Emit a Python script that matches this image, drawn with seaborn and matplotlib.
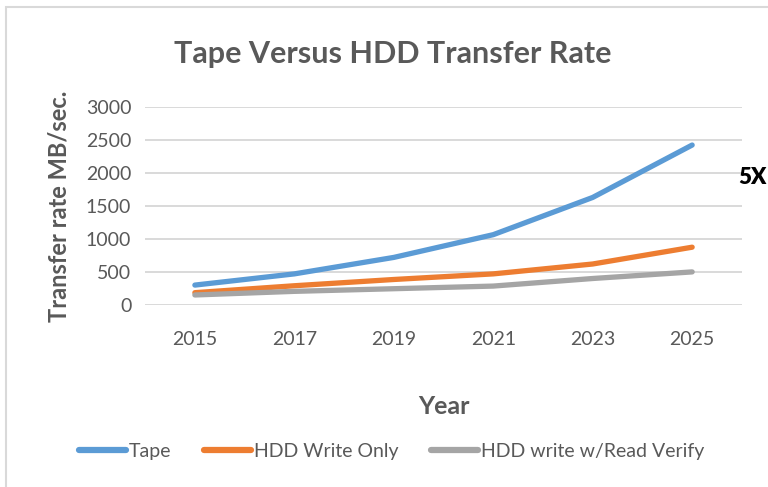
import pandas as pd
import matplotlib.pyplot as plt
import seaborn as sns
from matplotlib.patches import Rectangle

years = [2015, 2017, 2019, 2021, 2023, 2025]
tape = [300, 470, 720, 1065, 1630, 2425]
hdd_write = [185, 290, 385, 470, 620, 875]
hdd_verify = [150, 205, 245, 285, 400, 500]
series_names = ['Tape', 'HDD Write Only', 'HDD write w/Read Verify']
colors = ['#5B9BD5', '#ED7D31', '#A5A5A5']

df = pd.DataFrame({
    'Year': years * 3,
    'Rate': tape + hdd_write + hdd_verify,
    'Series': [s for s in series_names for _ in years],
})

sns.set_style('white')
plt.rcParams['font.family'] = ['Lato', 'DejaVu Sans']
text_color = '#595959'

fig = plt.figure(figsize=(7.68, 4.87), dpi=100)
ax = fig.add_axes([0.189, 0.374, 0.777, 0.406])

sns.lineplot(data=df, x='Year', y='Rate', hue='Series', palette=colors,
             linewidth=3.8, ax=ax, legend=False)

ax.set_xlim(2014, 2026)
ax.set_ylim(0, 3000)
ax.set_xticks(years)
ax.set_yticks(range(0, 3001, 500))
ax.tick_params(axis='both', length=0, labelsize=14, labelcolor=text_color, pad=10)
ax.tick_params(axis='x', pad=19)
ax.yaxis.grid(True, color='#D9D9D9', linewidth=1.4)
ax.set_axisbelow(True)
for sp in ax.spines.values():
    sp.set_visible(False)

ax.set_xlabel('Year', fontsize=18, fontweight='bold', color=text_color, labelpad=34)
ax.set_ylabel('Transfer rate MB/sec.', fontsize=17, fontweight='bold', color=text_color, labelpad=11)
fig.text(0.512, 0.889, 'Tape Versus HDD Transfer Rate', ha='center', va='center',
         fontsize=22, fontweight='bold', color=text_color)
fig.text(0.961, 0.636, '5X', ha='left', va='center', fontsize=16, fontweight='heavy', color='black')

handles = [plt.Line2D([], [], color=c, linewidth=4.5) for c in colors]
fig.legend(handles, series_names, loc='center', bbox_to_anchor=(0.51, 0.073), ncol=3,
           frameon=False, fontsize=14, labelcolor=text_color, handlelength=2.4,
           handletextpad=0.15, columnspacing=1.7)

fig.patches.append(Rectangle((0.008, -0.01), 1.0, 0.996, transform=fig.transFigure,
                             fill=False, edgecolor='#D9D9D9', linewidth=1.5))

fig.savefig('out.png', dpi=100)
